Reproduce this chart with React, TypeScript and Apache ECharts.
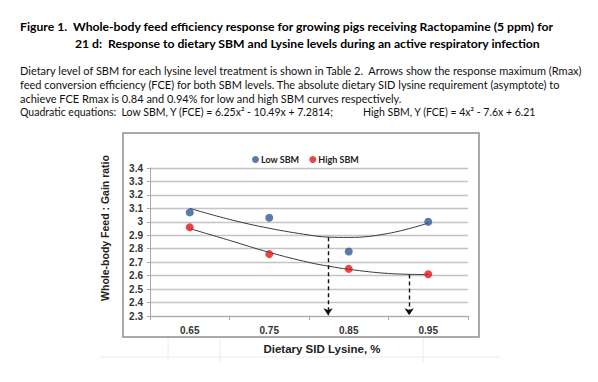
import React, { useEffect, useRef } from "react";
import * as echarts from "echarts";

const xTickValues = [0.6, 0.7, 0.8, 0.9, 1.0];
const xLabelValues = [0.65, 0.75, 0.85, 0.95];
const lysine = [0.65, 0.75, 0.85, 0.95];
const lowSBM = [3.07, 3.03, 2.78, 3.0];
const highSBM = [2.96, 2.76, 2.65, 2.61];
const trendX = [0.65, 0.7, 0.75, 0.8, 0.825, 0.85, 0.9, 0.95];
const lowTrend = [3.1, 3.018, 2.952, 2.902, 2.886, 2.884, 2.914, 2.99];
const highTrend = [2.95, 2.862, 2.773, 2.698, 2.67, 2.647, 2.616, 2.608];
const arrowX = [0.824, 0.926];
const arrowTop = [2.886, 2.609];
const arrowBottom = 2.305;

const titleLines = [
  "Figure 1.  Whole-body feed efficiency response for growing pigs receiving Ractopamine (5 ppm) for",
  "21 d:  Response to dietary SBM and Lysine levels during an active respiratory infection",
];
const paraLines = [
  "Dietary level of SBM for each lysine level treatment is shown in Table 2.  Arrows show the response maximum (Rmax)",
  "feed conversion efficiency (FCE) for both SBM levels. The absolute dietary SID lysine requirement (asymptote) to",
  "achieve FCE Rmax is 0.84 and 0.94% for low and high SBM curves respectively.",
];
const eqLow = "Quadratic equations:  Low SBM, Y (FCE) = 6.25x² - 10.49x + 7.2814;";
const eqHigh = "High SBM, Y (FCE) = 4x² - 7.6x + 6.21";

export default function App() {
  const ref = useRef<HTMLDivElement>(null);
  useEffect(() => {
    const chart = echarts.init(ref.current!, undefined, { renderer: "svg" });
    const hdr = "Lato, 'Open Sans', sans-serif";
    const ax = "'Liberation Sans', Arial, sans-serif";
    const option: any = {
      animation: false,
      backgroundColor: "#ffffff",
      grid: { left: 150, right: 130, top: 168, bottom: 66 },
      legend: {
        left: 247,
        top: 150,
        itemWidth: 7,
        itemHeight: 7,
        itemGap: 10,
        icon: "circle",
        data: ["Low SBM", "High SBM"],
        textStyle: { fontFamily: hdr, fontWeight: "bold", fontSize: 9, color: "#222", padding: [0, 0, 0, -3] },
      },
      xAxis: {
        type: "value",
        min: 0.6,
        max: 1.0,
        splitLine: { show: false },
        axisLine: { show: true, lineStyle: { color: "#a8a8a8" } },
        axisTick: { show: true, length: 4, customValues: xTickValues, lineStyle: { color: "#a8a8a8" } },
        axisLabel: {
          customValues: xLabelValues,
          formatter: (v: number) => v.toFixed(2),
          fontFamily: ax,
          fontWeight: "bold",
          fontSize: 10,
          color: "#333",
          margin: 9,
        },
      },
      yAxis: {
        type: "value",
        min: 2.3,
        max: 3.4,
        interval: 0.1,
        axisLine: { show: true, lineStyle: { color: "#a8a8a8" } },
        axisTick: { show: true, length: 3, lineStyle: { color: "#a8a8a8" } },
        splitLine: { lineStyle: { color: "#c4c4c4", width: 1.3 } },
        axisLabel: {
          formatter: (v: number) => String(Math.round(v * 10) / 10),
          fontFamily: ax,
          fontWeight: "bold",
          fontSize: 10,
          color: "#333",
          margin: 7,
        },
      },
      series: [
        {
          name: "lowTrend",
          type: "line",
          smooth: 0.4,
          symbol: "none",
          data: trendX.map((x, i) => [x, lowTrend[i]]),
          lineStyle: { color: "#3a3a3a", width: 1 },
          z: 2,
        },
        {
          name: "highTrend",
          type: "line",
          smooth: 0.4,
          symbol: "none",
          data: trendX.map((x, i) => [x, highTrend[i]]),
          lineStyle: { color: "#3a3a3a", width: 1 },
          z: 2,
          markLine: {
            silent: true,
            symbol: ["none", "arrow"],
            symbolSize: [7, 7],
            label: { show: false },
            lineStyle: { color: "#111", type: [4, 3], width: 1.4 },
            data: arrowX.map((x, i) => [
              { coord: [x, arrowTop[i]] },
              { coord: [x, arrowBottom] },
            ]),
          },
        },
        {
          name: "Low SBM",
          type: "scatter",
          symbolSize: 8,
          itemStyle: { color: "#2c5b97" },
          data: lysine.map((x, i) => [x, lowSBM[i]]),
          z: 5,
        },
        {
          name: "High SBM",
          type: "scatter",
          symbolSize: 8,
          itemStyle: { color: "#e3171c" },
          data: lysine.map((x, i) => [x, highSBM[i]]),
          z: 5,
        },
      ],
      graphic: [
        { type: "line", shape: { x1: 100, y1: 357, x2: 500, y2: 357 }, style: { stroke: "#ececec", lineWidth: 1 }, z: -1 },
        { type: "line", shape: { x1: 168, y1: 337, x2: 168, y2: 362 }, style: { stroke: "#ececec", lineWidth: 1 }, z: -1 },
        { type: "line", shape: { x1: 220, y1: 337, x2: 220, y2: 362 }, style: { stroke: "#ececec", lineWidth: 1 }, z: -1 },
        { type: "line", shape: { x1: 423, y1: 337, x2: 423, y2: 362 }, style: { stroke: "#ececec", lineWidth: 1 }, z: -1 },
        {
          type: "rect",
          shape: { x: 123, y: 133, width: 356, height: 204 },
          style: { fill: "none", stroke: "#8e8e8e", lineWidth: 1.5 },
          z: 0,
        },
        {
          type: "text",
          x: 20,
          y: 26,
          style: { text: titleLines[0], font: `bold 12.2px ${hdr}`, fill: "#000", textVerticalAlign: "middle" },
        },
        {
          type: "text",
          x: 75,
          y: 43,
          style: { text: titleLines[1], font: `bold 12.2px ${hdr}`, fill: "#000", textVerticalAlign: "middle" },
        },
        ...paraLines.map((t, i) => ({
          type: "text",
          x: 20,
          y: 70 + i * 14,
          style: { text: t, font: `11px ${hdr}`, fill: "#111", textVerticalAlign: "middle" },
        })),
        {
          type: "text",
          x: 20,
          y: 112,
          style: { text: eqLow, font: `10.5px ${hdr}`, fill: "#111", textVerticalAlign: "middle" },
        },
        {
          type: "text",
          x: 363,
          y: 112,
          style: { text: eqHigh, font: `10.5px ${hdr}`, fill: "#111", textVerticalAlign: "middle" },
        },
        {
          type: "text",
          x: 105,
          y: 228,
          rotation: Math.PI / 2,
          style: {
            text: "Whole-body Feed : Gain ratio",
            font: `bold 10.5px ${ax}`,
            fill: "#222",
            textAlign: "center",
            textVerticalAlign: "middle",
          },
        },
        {
          type: "text",
          x: 322,
          y: 349,
          style: {
            text: "Dietary SID Lysine, %",
            font: `bold 11.5px ${ax}`,
            fill: "#222",
            textAlign: "center",
            textVerticalAlign: "middle",
          },
        },
      ],
    };
    chart.setOption(option);
    return () => chart.dispose();
  }, []);
  return (
    <div
      ref={ref}
      style={{ position: "fixed", left: 0, top: 0, width: 598, height: 382, background: "#fff" }}
    />
  );
}
